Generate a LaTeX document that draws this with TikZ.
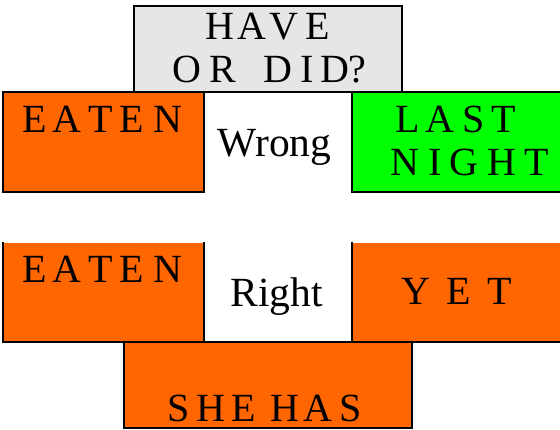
\documentclass[tikz,border=0pt]{standalone}
\usepackage{fontspec}
\setmainfont{Liberation Serif}
\definecolor{orng}{HTML}{FF6600}
\definecolor{grn}{HTML}{00FF00}
\definecolor{lgray}{HTML}{E6E6E6}
\newcommand\gp[1]{\hspace{#1pt}}
\begin{document}
\begin{tikzpicture}[x=1pt,y=-1pt,
  panel/.style={rectangle, inner sep=0pt, outer sep=0pt, line width=2pt},
  edge/.style={line width=2pt, line cap=rect},
  txt/.style={inner sep=0pt, anchor=base, font=\fontsize{40}{46}\selectfont},
  word/.style={inner sep=0pt, anchor=base, font=\fontsize{41.5}{46}\selectfont}]
\useasboundingbox (0,0) rectangle (560,430);
% boxes
\node[panel, draw, fill=lgray, minimum width=268pt, minimum height=86pt] (q) at (268,49) {};
\node[panel, draw, fill=orng, minimum width=201pt, minimum height=100pt] (e1) at (103.5,142) {};
\node[panel, fill=grn, minimum width=212pt, minimum height=100pt] (ln) at (458,142) {};
\draw[edge] (ln.north east) -- (ln.north west) -- (ln.south west) -- (ln.south east);
\node[panel, fill=orng, minimum width=201pt, minimum height=99pt] (e2) at (103.5,292.5) {};
\node[panel, fill=orng, minimum width=212pt, minimum height=99pt] (y) at (458,292.5) {};
\draw[edge] (e2.north west) -- (e2.south west) -- (e2.south east) -- (e2.north east);
\draw[edge] (y.north west) -- (y.south west) -- (y.south east);
\draw[edge] (e2.south east) -- (y.south west);
\node[panel, draw, fill=orng, minimum width=288pt, minimum height=86pt] (sh) at (268,385) {};
% texts
\node[txt] (t1) at (267.5,40) {H\gp{3.5}A\gp{3}V\gp{7}E};
\node[txt] (t2) at (269.5,83) {O\gp{8}R\gp{28}D\gp{8}I\gp{6}D?};
\node[txt] (t3) at (102.5,133) {E\gp{6}A\gp{6.5}T\gp{7}E\gp{10}N};
\node[word] (t4) at (274.5,157) {Wrong};
\node[txt] (t5) at (456,133) {L\gp{5}A\gp{8.5}S\gp{7}T};
\node[txt] (t6) at (470,176) {N\gp{8.4}I\gp{8.4}G\gp{8.4}H\gp{8.4}T};
\node[txt] (t7) at (102.5,283) {E\gp{6}A\gp{6.5}T\gp{7}E\gp{10}N};
\node[word] (t8) at (276.5,307) {Right};
\node[txt] (t9) at (456.5,305) {Y\gp{16.6}E\gp{16.6}T};
\node[txt] (t10) at (264.5,421) {S\gp{7}H\gp{6}E\gp{14}H\gp{4}A\gp{7}S};
\end{tikzpicture}
\end{document}
